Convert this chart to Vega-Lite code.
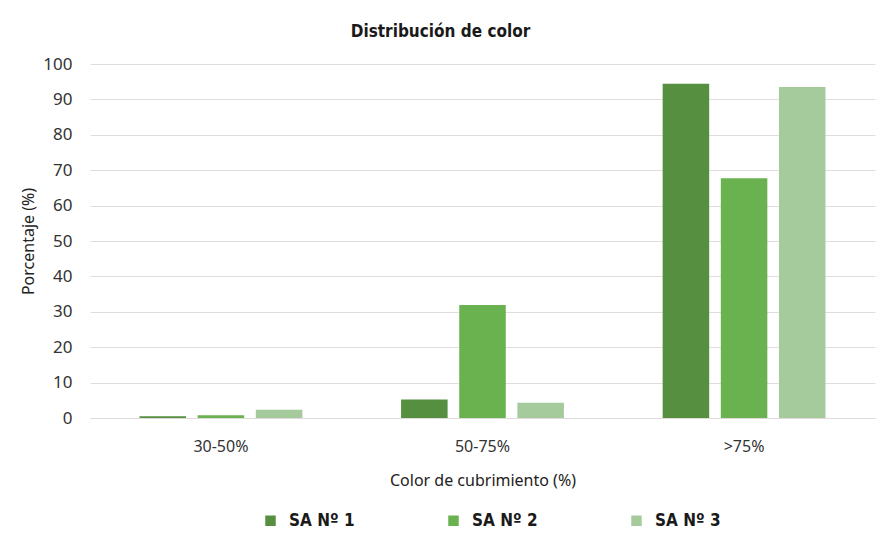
{
  "$schema": "https://vega.github.io/schema/vega-lite/v6.json",
  "width": 785,
  "height": 354,
  "autosize": {"type": "none"},
  "padding": {"left": 90, "top": 64, "right": 10, "bottom": 120},
  "background": "white",
  "title": {
    "text": "Distribución de color",
    "font": "DejaVu Sans Condensed, Roboto, sans-serif",
    "fontSize": 17,
    "fontWeight": "bold",
    "color": "#1a1a1a",
    "anchor": "middle",
    "frame": "group",
    "dx": -42,
    "offset": 14
  },
  "data": {
    "values": [
      {"rango": "30-50%", "serie": "SA Nº 1", "valor": 0.5},
      {"rango": "30-50%", "serie": "SA Nº 2", "valor": 0.8},
      {"rango": "30-50%", "serie": "SA Nº 3", "valor": 2.3},
      {"rango": "50-75%", "serie": "SA Nº 1", "valor": 5.2},
      {"rango": "50-75%", "serie": "SA Nº 2", "valor": 31.9},
      {"rango": "50-75%", "serie": "SA Nº 3", "valor": 4.3},
      {"rango": ">75%", "serie": "SA Nº 1", "valor": 94.4},
      {"rango": ">75%", "serie": "SA Nº 2", "valor": 67.7},
      {"rango": ">75%", "serie": "SA Nº 3", "valor": 93.5}
    ]
  },
  "mark": {"type": "bar"},
  "encoding": {
    "x": {
      "field": "rango",
      "type": "nominal",
      "sort": ["30-50%", "50-75%", ">75%"],
      "scale": {"paddingInner": 0.333, "paddingOuter": 0.167},
      "axis": {
        "title": "Color de cubrimiento (%)",
        "labelAngle": 0,
        "labelFont": "Noto Sans",
        "labelFontSize": 16,
        "labelColor": "#333333",
        "labelPadding": 20,
        "titleFont": "Noto Sans",
        "titleFontSize": 16,
        "titleFontWeight": "normal",
        "titleColor": "#222222",
        "titlePadding": 18,
        "ticks": false,
        "domain": true,
        "domainColor": "#e0dada",
        "grid": false
      }
    },
    "xOffset": {
      "field": "serie",
      "type": "nominal",
      "scale": {"paddingInner": 0.2, "paddingOuter": 0.1}
    },
    "y": {
      "field": "valor",
      "type": "quantitative",
      "scale": {"domain": [0, 100], "nice": false},
      "axis": {
        "title": "Porcentaje (%)",
        "values": [0, 10, 20, 30, 40, 50, 60, 70, 80, 90, 100],
        "labelFont": "Noto Sans",
        "labelFontSize": 17,
        "labelColor": "#333333",
        "labelPadding": 18,
        "titleFont": "Noto Sans",
        "titleFontSize": 16,
        "titleFontWeight": "normal",
        "titleColor": "#222222",
        "titlePadding": 6,
        "ticks": false,
        "domain": false,
        "grid": true,
        "gridColor": "#e3dcdc",
        "gridWidth": 1.2
      }
    },
    "color": {
      "field": "serie",
      "type": "nominal",
      "scale": {
        "domain": ["SA Nº 1", "SA Nº 2", "SA Nº 3"],
        "range": ["#568f40", "#6ab14f", "#a5cb9c"]
      },
      "legend": {
        "title": null,
        "orient": "none",
        "direction": "horizontal",
        "legendX": 172,
        "legendY": 448,
        "symbolType": "square",
        "symbolSize": 110,
        "symbolStrokeWidth": 0,
        "labelFont": "DejaVu Sans Condensed, Roboto, sans-serif",
        "labelFontSize": 17,
        "labelFontWeight": "bold",
        "labelColor": "#1a1a1a",
        "labelOffset": 10,
        "columnPadding": 90
      }
    }
  },
  "config": {"view": {"stroke": null}}
}
